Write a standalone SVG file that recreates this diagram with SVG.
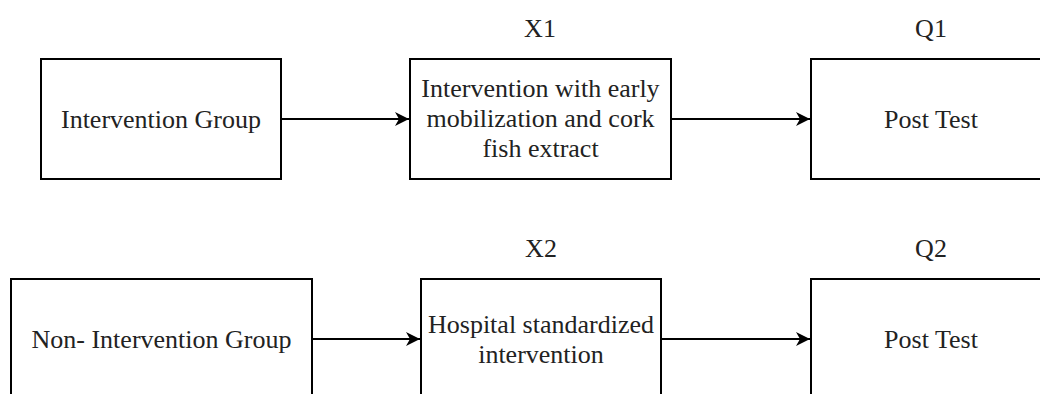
<svg xmlns="http://www.w3.org/2000/svg" width="1040" height="394" viewBox="0 0 1040 394">
<style>
.box{fill:#fff;stroke:#000;stroke-width:2}
.t{font-family:"Liberation Serif","Times New Roman",serif;font-size:26px;fill:#222;text-anchor:middle}
.edge{fill:none;stroke:#000;stroke-width:2}
</style>
<defs>
<marker id="arr" viewBox="0 0 16 16" refX="15" refY="8" markerWidth="16" markerHeight="16" markerUnits="userSpaceOnUse" orient="auto">
<path d="M1,1 L15,8 L1,15 L5,8 Z" fill="#000"/>
</marker>
</defs>
<rect width="1040" height="394" fill="#fff"/>
<g id="label-x1"><text class="t" x="540" y="37">X1</text></g>
<g id="label-q1"><text class="t" x="931" y="37">Q1</text></g>
<g id="label-x2"><text class="t" x="541" y="257">X2</text></g>
<g id="label-q2"><text class="t" x="931" y="257">Q2</text></g>
<g id="intervention-group">
<rect class="box" x="41" y="59" width="240" height="120"/>
<text class="t" x="161" y="128">Intervention Group</text>
</g>
<g id="x1-intervention">
<rect class="box" x="410" y="59" width="261" height="120"/>
<text class="t" x="540.5" y="97">Intervention with early</text>
<text class="t" x="540.5" y="127">mobilization and cork</text>
<text class="t" x="540.5" y="157">fish extract</text>
</g>
<g id="post-test-1">
<rect class="box" x="811" y="59" width="240" height="120"/>
<text class="t" x="931" y="128">Post Test</text>
</g>
<g id="non-intervention-group">
<rect class="box" x="11" y="279" width="301" height="130"/>
<text class="t" x="161.5" y="348">Non- Intervention Group</text>
</g>
<g id="x2-hospital">
<rect class="box" x="421" y="279" width="240" height="130"/>
<text class="t" x="541" y="333">Hospital standardized</text>
<text class="t" x="541" y="363">intervention</text>
</g>
<g id="post-test-2">
<rect class="box" x="811" y="279" width="240" height="130"/>
<text class="t" x="931" y="348">Post Test</text>
</g>
<g id="connectors">
<line class="edge" x1="281" y1="119" x2="409" y2="119" marker-end="url(#arr)"/>
<line class="edge" x1="671" y1="119" x2="810" y2="119" marker-end="url(#arr)"/>
<line class="edge" x1="312" y1="339" x2="420" y2="339" marker-end="url(#arr)"/>
<line class="edge" x1="661" y1="339" x2="810" y2="339" marker-end="url(#arr)"/>
</g>
</svg>
